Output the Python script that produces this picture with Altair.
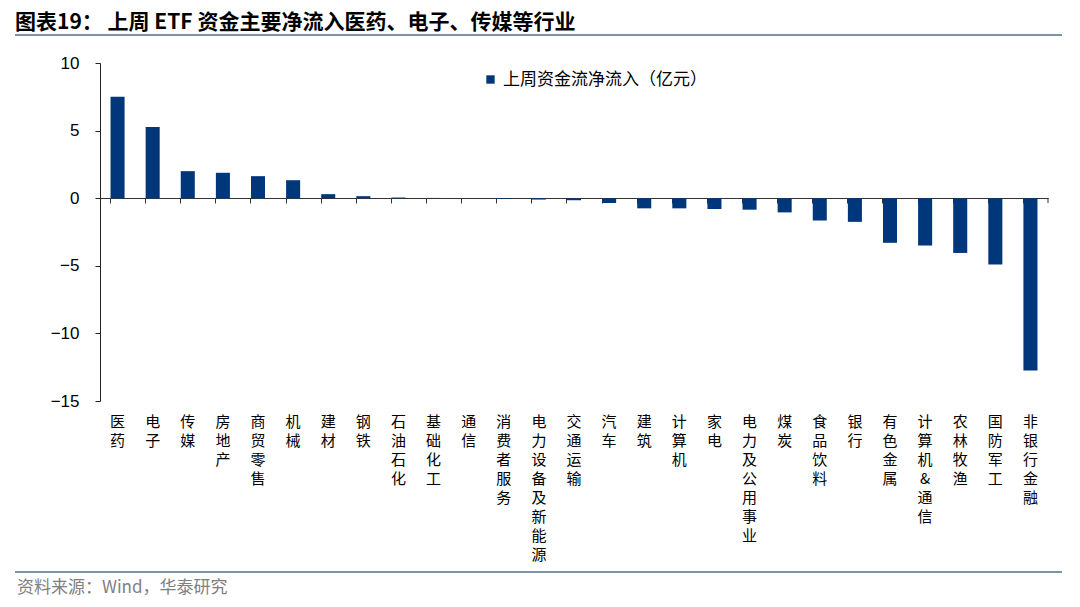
import altair as alt
import pandas as pd

categories = ["医药", "电子", "传媒", "房地产", "商贸零售", "机械", "建材", "钢铁", "石油石化",
              "基础化工", "通信", "消费者服务", "电力设备及新能源", "交通运输", "汽车", "建筑",
              "计算机", "家电", "电力及公用事业", "煤炭", "食品饮料", "银行", "有色金属",
              "计算机&通信", "农林牧渔", "国防军工", "非银行金融"]
values = [7.5, 5.27, 2.0, 1.88, 1.63, 1.33, 0.3, 0.15, 0.05,
          0.02, 0.01, -0.05, -0.1, -0.15, -0.35, -0.75,
          -0.75, -0.8, -0.85, -1.05, -1.65, -1.75, -3.3,
          -3.5, -4.05, -4.9, -12.75]
series_name = "上周资金流净流入（亿元）"
y_ticks = [-15, -10, -5, 0, 5, 10]

title_text = "图表19：  上周 ETF 资金主要净流入医药、电子、传媒等行业"
source_text = "资料来源：Wind，华泰研究"

df = pd.DataFrame({"cat": categories, "val": values, "s": series_name})

W, H = 948, 338
BAR = "#00377a"
FONT = "Noto Sans CJK SC"

xscale = alt.Scale(domain=categories, paddingInner=0.6, paddingOuter=0.3)
yscale = alt.Scale(domain=[-15, 10], nice=False, zero=False)

bars = alt.Chart(df).mark_bar(color=BAR).encode(
    x=alt.X("cat:N", sort=categories, scale=xscale,
            axis=alt.Axis(orient="bottom", offset=-203, labels=False, ticks=True, tickSize=5,
                          bandPosition=0, domain=True, domainColor="#333333", tickColor="#333333",
                          title=None, grid=False)),
    y=alt.Y("val:Q", scale=yscale,
            axis=alt.Axis(values=y_ticks, title=None, grid=False, domainColor="#222222",
                          tickColor="#222222", tickSize=5, labelFontSize=17, labelFont="Liberation Sans",
                          labelColor="#000000", labelPadding=16)),
    color=alt.Color("s:N", scale=alt.Scale(range=[BAR]),
                    legend=alt.Legend(orient="none", legendX=382, legendY=8, title=None,
                                      symbolType="square", symbolSize=70, labelFontSize=17,
                                      labelFont=FONT, labelColor="#000000", labelOffset=4,
                                      labelLimit=0)),
)

labels = alt.Chart(df).mark_tick(opacity=0).encode(
    x=alt.X("cat:N", sort=categories, scale=xscale,
            axis=alt.Axis(orient="bottom", domain=False, ticks=False, labelAngle=0,
                          labelExpr="split(datum.label, '')", labelFontSize=15, labelFont=FONT,
                          labelColor="#000000", labelLineHeight=19, labelBaseline="top",
                          labelPadding=13, title=None, grid=False, labelOverlap=False)),
    y=alt.Y("val:Q", scale=yscale),
)

end_tick = alt.Chart(df.head(1)).mark_rule(color="#333333").encode(
    x=alt.value(W), y=alt.value(135), y2=alt.value(140))

title = alt.Chart(df.head(1)).mark_text(
    text=title_text, align="left", baseline="middle", fontSize=21, fontWeight="bold",
    font=FONT, color="#000000").encode(x=alt.value(-85), y=alt.value(-40))

top_rule = alt.Chart(df.head(1)).mark_rule(color="#7f93a8", strokeWidth=2).encode(
    x=alt.value(-85), x2=alt.value(962), y=alt.value(-28))

bottom_rule = alt.Chart(df.head(1)).mark_rule(color="#7f93a8", strokeWidth=2).encode(
    x=alt.value(-85), x2=alt.value(962), y=alt.value(509))

source = alt.Chart(df.head(1)).mark_text(
    text=source_text, align="left", baseline="middle", fontSize=17, font=FONT,
    color="#808080").encode(x=alt.value(-83), y=alt.value(525))

chart = alt.layer(bars, labels, end_tick, title, top_rule, bottom_rule, source).resolve_axis(
    x="independent"
).properties(
    width=W, height=H,
    autosize=alt.AutoSizeParams(type="none"),
    padding={"left": 92, "top": 55, "right": 24, "bottom": 198},
).configure_view(stroke=None)

chart.save("out.html", embed_options={"renderer": "svg", "actions": False})
